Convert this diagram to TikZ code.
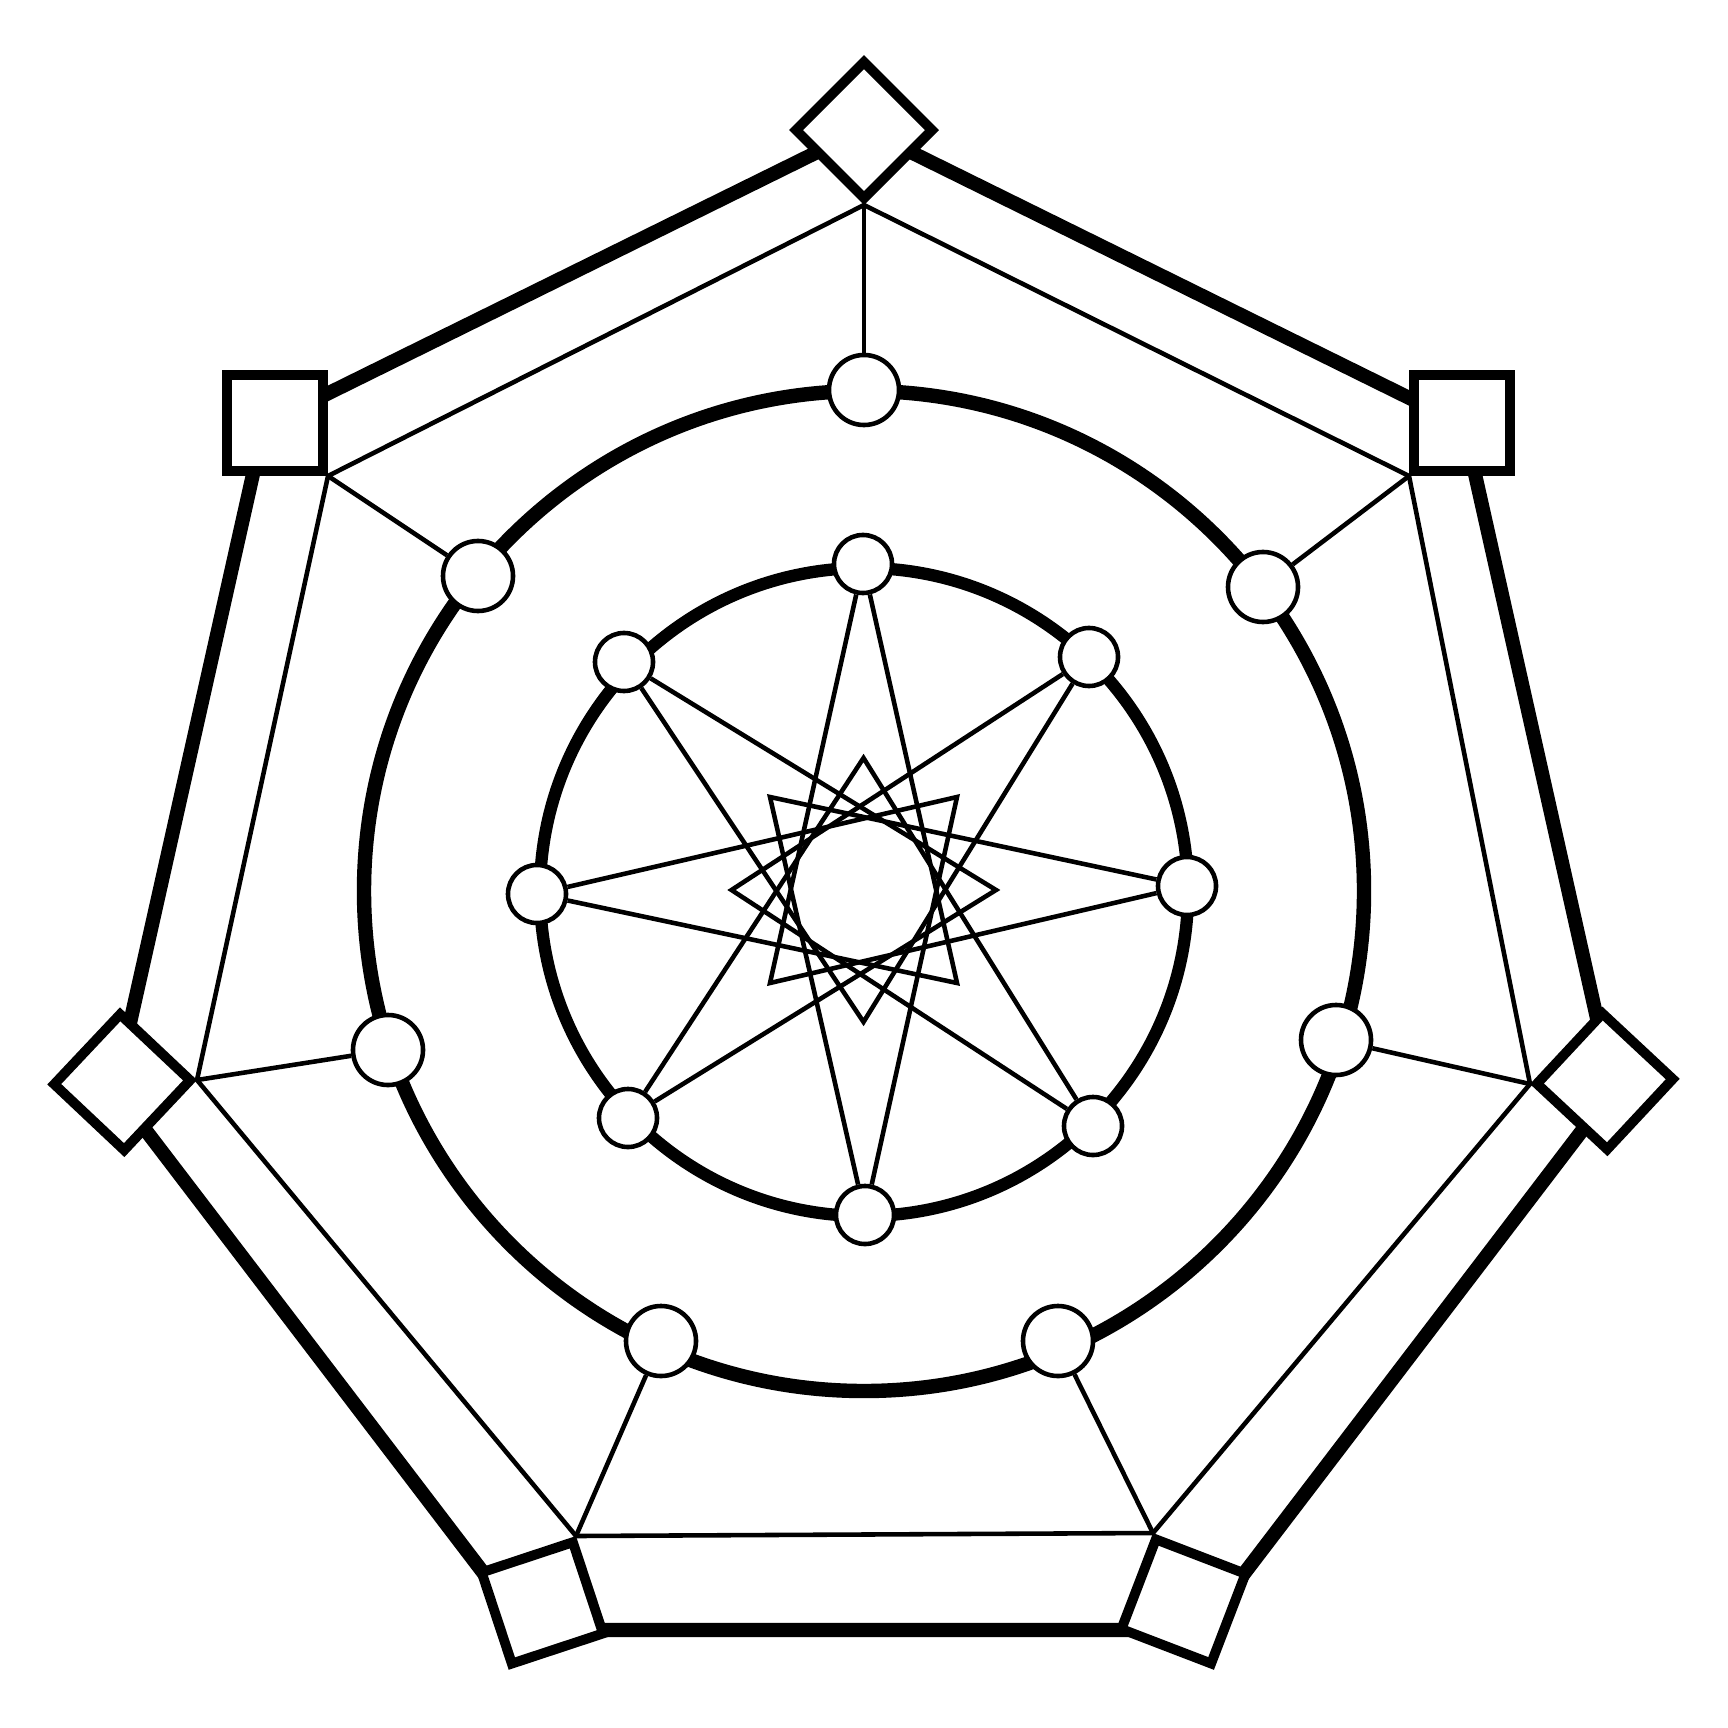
\documentclass[tikz,border=0pt]{standalone}
\begin{document}
\begin{tikzpicture}[x=0.01cm, y=-0.01cm,
        rim/.style={line width=4pt, line join=miter},
        link/.style={line width=1.3pt},
        sq/.style={rectangle, draw, fill=white, line width=2.8pt, minimum size=0.96cm, inner sep=0pt},
        bignode/.style={circle, draw, fill=white, line width=1.3pt, minimum size=0.7cm, inner sep=0pt},
        smallnode/.style={circle, draw, fill=white, line width=1.3pt, minimum size=0.58cm, inner sep=0pt}]
        \useasboundingbox (0,0) rectangle (1728,1728);

        % Thick outer frame
        \coordinate (hT) at (864,129);
        \coordinate (hTR) at (1464,425);
        \coordinate (hR) at (1613,1090);
        \coordinate (hBR) at (1201,1630);
        \coordinate (hBL) at (527,1630);
        \coordinate (hL) at (115,1090);
        \coordinate (hTL) at (264,425);
        \draw[rim] (hT) -- (hTR) -- (hR) -- (hBR) -- (hBL) -- (hL) -- (hTL) -- cycle;

        % Two rings
        \coordinate (c) at (864,891);
        \draw[line width=4.1pt] (c) circle[radius=500];
        \draw[line width=3.5pt] (864,892) circle[radius=324];

        % Nodes on the big ring
        \node[bignode] (o1) at (864,390) {};
        \node[bignode] (o2) at (478,576) {};
        \node[bignode] (o3) at (1263,587) {};
        \node[bignode] (o4) at (388,1050) {};
        \node[bignode] (o5) at (1336,1040) {};
        \node[bignode] (o6) at (661,1341) {};
        \node[bignode] (o7) at (1058,1341) {};

        % Nodes on the small ring
        \node[smallnode] (i1) at (863,564) {};
        \node[smallnode] (i2) at (1089,657) {};
        \node[smallnode] (i3) at (1187,886) {};
        \node[smallnode] (i4) at (1093,1126) {};
        \node[smallnode] (i5) at (865,1215) {};
        \node[smallnode] (i6) at (628,1118) {};
        \node[smallnode] (i7) at (537,894) {};
        \node[smallnode] (i8) at (624,662) {};

        % Squares on the frame
        \node[sq, rotate=45, anchor=south west] (sT) at (864,205) {};
        \node[sq, anchor=south east] (sTL) at (328,476) {};
        \node[sq, anchor=south west] (sTR) at (1409,476) {};
        \node[sq, rotate=-43.3, anchor=north east] (sL) at (197,1080) {};
        \node[sq, rotate=-43, anchor=south west] (sR) at (1530,1084) {};
        \node[sq, rotate=18.3, anchor=north east] (sBL) at (576,1536) {};
        \node[sq, rotate=-21, anchor=north west] (sBR) at (1153,1533) {};

        % Thin heptagon between the square corners
        \draw[link] (sT.south west) -- (sTL.south east) -- (sL.north east) -- (sBL.north east)
            -- (sBR.north west) -- (sR.south west) -- (sTR.south west) -- cycle;

        % Spokes to the big ring
        \draw[link] (sT.south west) -- (o1);
        \draw[link] (sTL.south east) -- (o2);
        \draw[link] (sTR.south west) -- (o3);
        \draw[link] (sL.north east) -- (o4);
        \draw[link] (sR.south west) -- (o5);
        \draw[link] (sBL.north east) -- (o6);
        \draw[link] (sBR.north west) -- (o7);

        % Star points in the middle
        \coordinate (tT) at (863.5,758);
        \coordinate (tTR) at (957,797);
        \coordinate (tR) at (996,890);
        \coordinate (tBR) at (957,983);
        \coordinate (tB) at (863.5,1022);
        \coordinate (tBL) at (770,983);
        \coordinate (tL) at (731.5,890);
        \coordinate (tTL) at (770,797);

        \draw[link] (i6) -- (tT) -- (i4);
        \draw[link] (i7) -- (tTR) -- (i5);
        \draw[link] (i8) -- (tR) -- (i6);
        \draw[link] (i1) -- (tBR) -- (i7);
        \draw[link] (i2) -- (tB) -- (i8);
        \draw[link] (i3) -- (tBL) -- (i1);
        \draw[link] (i4) -- (tL) -- (i2);
        \draw[link] (i5) -- (tTL) -- (i3);
    \end{tikzpicture}
\end{document}
